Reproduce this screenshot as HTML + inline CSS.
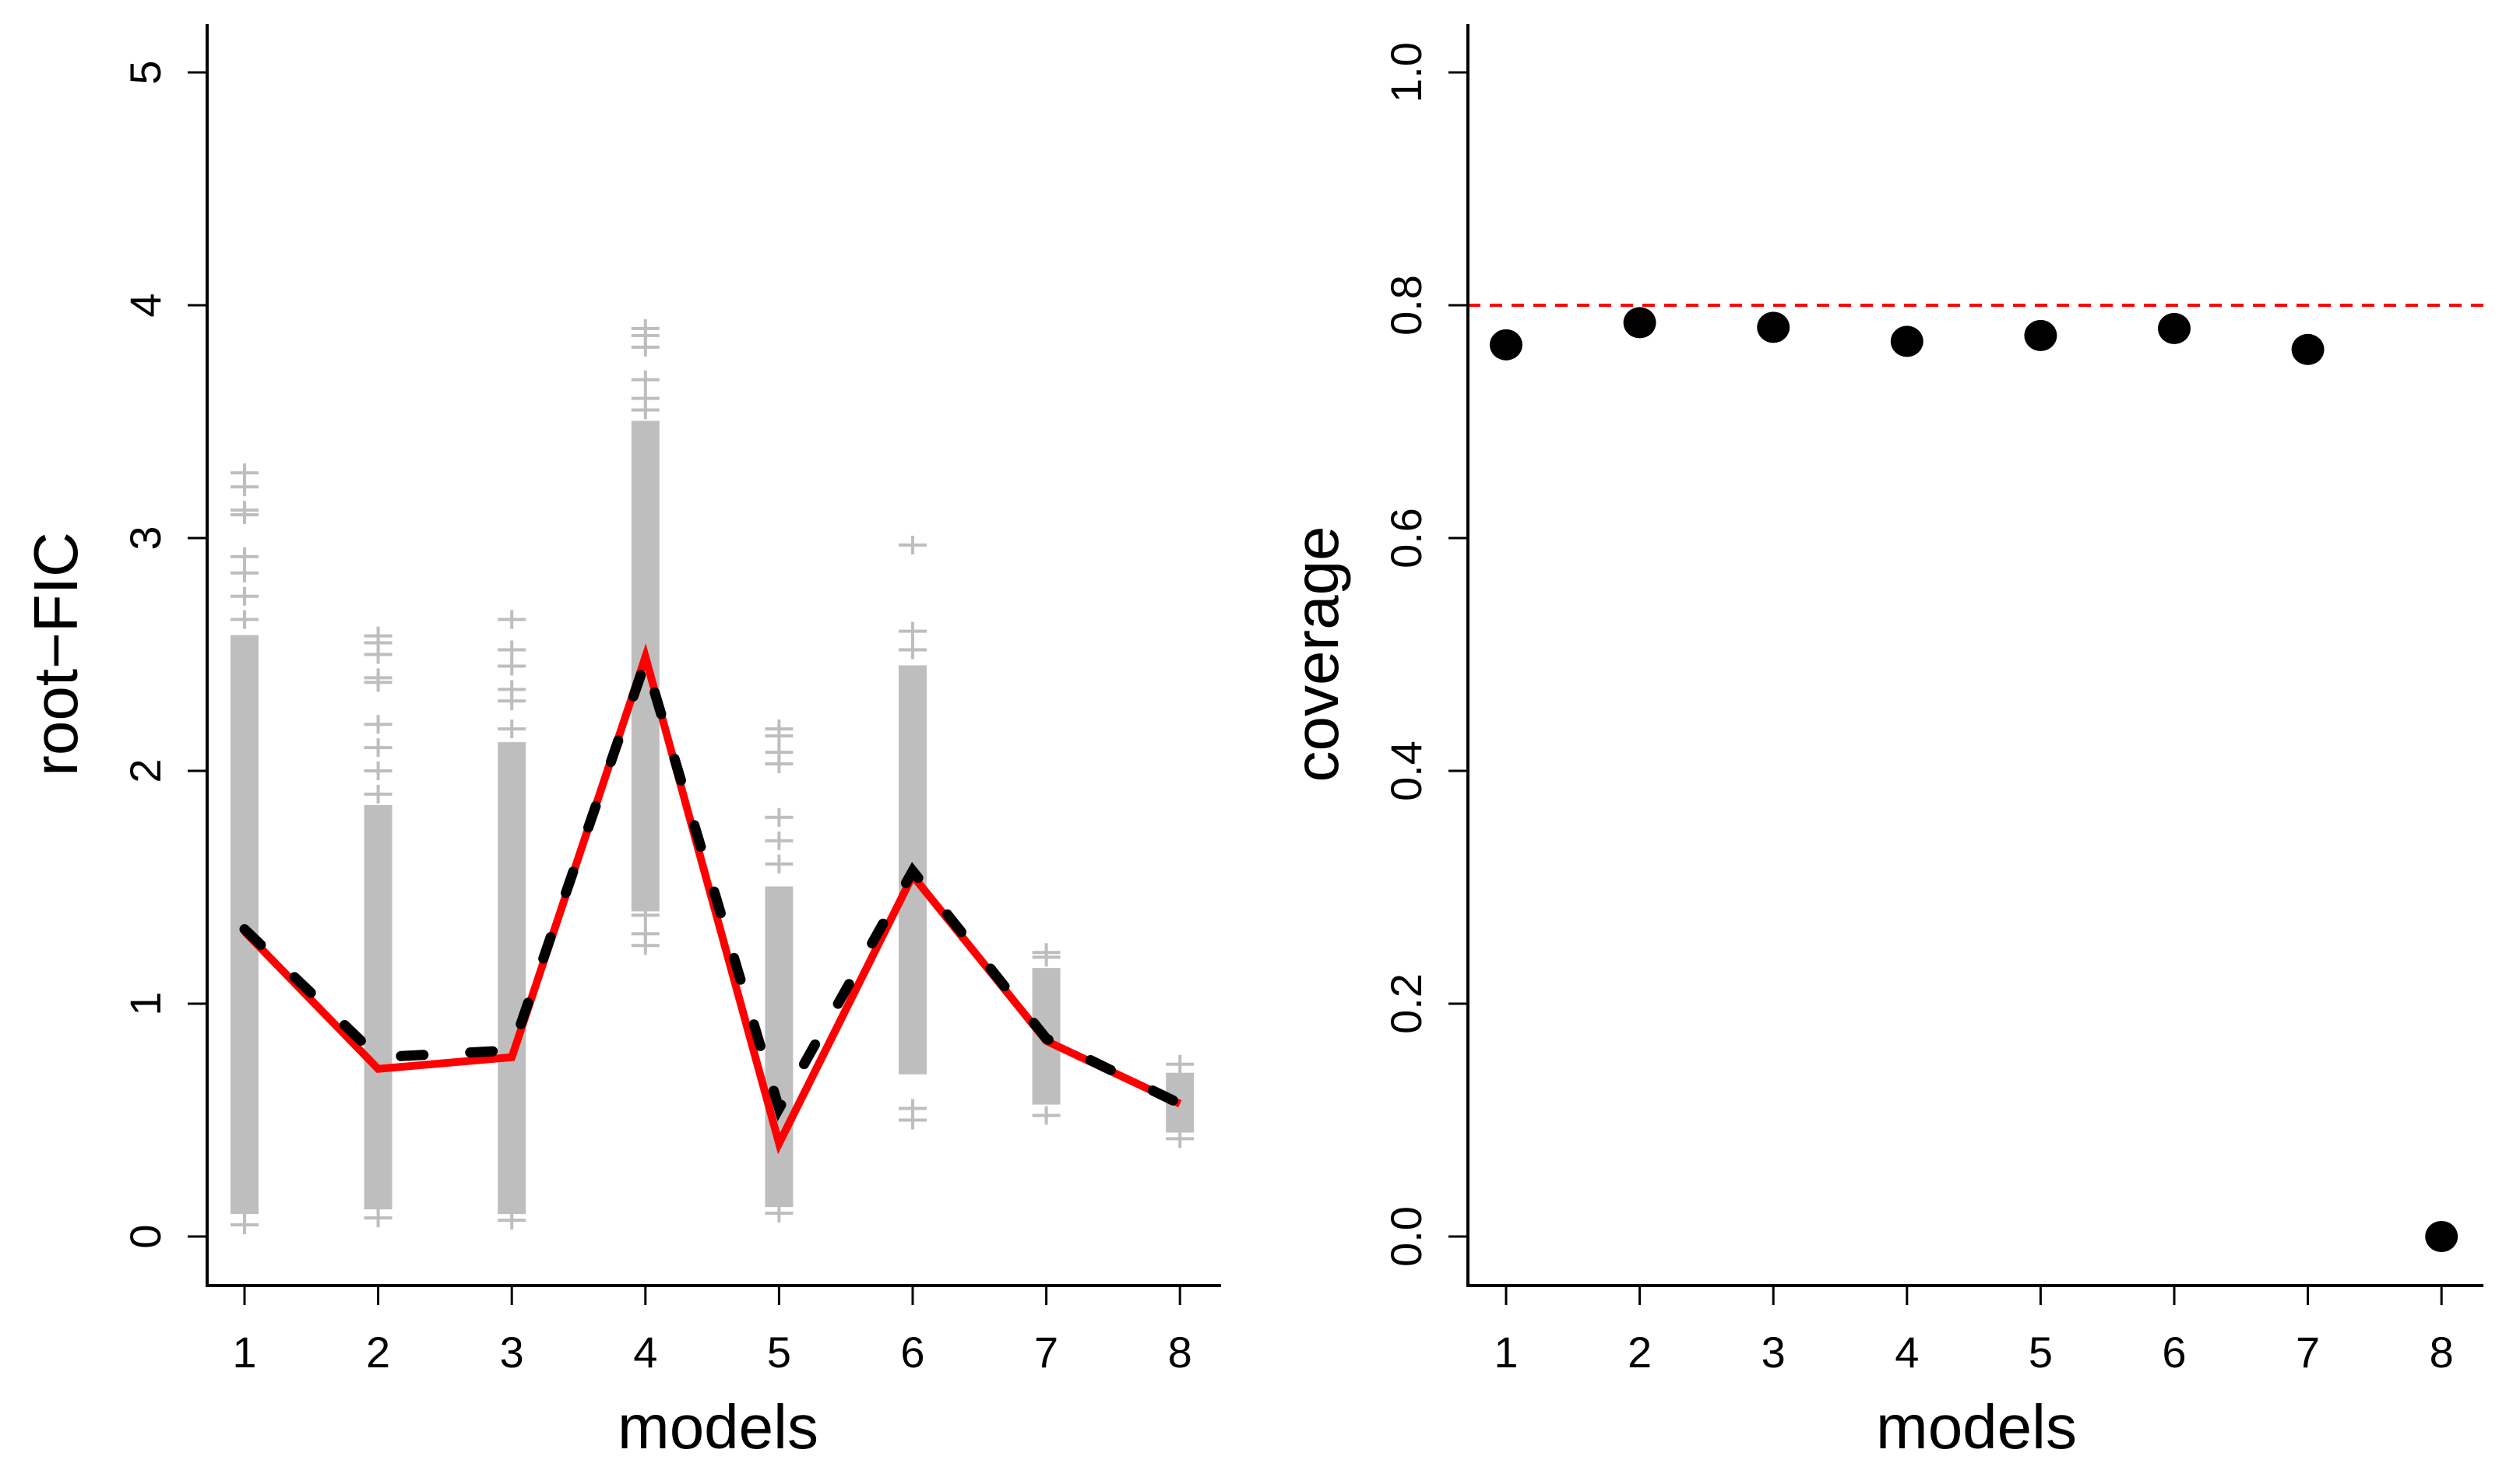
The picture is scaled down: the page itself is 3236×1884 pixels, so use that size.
<!DOCTYPE html>
<html><head><meta charset="utf-8"><style>
html,body{margin:0;padding:0;background:#fff}
svg{display:block}
text{font-family:"Liberation Sans",Arial,sans-serif;fill:#000}
</style></head><body>
<svg id="chart" width="3236" height="1884" viewBox="0 0 3236 1884" xmlns="http://www.w3.org/2000/svg">
<g id="left"></g>
<g id="right"></g>
</svg>
<script>
const models = [1,2,3,4,5,6,7,8];
const redValues = [1.31,0.72,0.77,2.49,0.40,1.55,0.84,0.57];
const blackValues = [1.32,0.77,0.80,2.47,0.55,1.57,0.85,0.57];
const denseLow = [0.10,0.12,0.10,1.40,0.13,0.70,0.57,0.45];
const denseHigh = [2.58,1.85,2.12,3.50,1.50,2.45,1.15,0.70];
const outliers = [
  [0.05,0.12,0.15,0.28,2.65,2.75,2.85,2.92,3.10,3.12,3.22,3.28],
  [0.08,1.90,2.00,2.10,2.20,2.38,2.40,2.50,2.55,2.58],
  [0.07,2.18,2.30,2.35,2.45,2.52,2.65],
  [1.25,1.30,1.38,3.55,3.60,3.68,3.82,3.87,3.90],
  [0.10,1.60,1.70,1.80,2.03,2.08,2.15,2.18],
  [0.50,0.55,2.52,2.60,2.97],
  [0.52,1.20,1.22],
  [0.42,0.74]
];
const coverage = [0.766,0.785,0.781,0.769,0.774,0.780,0.762,0.0];
const targetCoverage = 0.8;
const leftTicks = [0,1,2,3,4,5];
const rightTicks = ["0.0","0.2","0.4","0.6","0.8","1.0"];

const NS="http://www.w3.org/2000/svg";
function mk(parent,tag,attrs,txt){const e=document.createElementNS(NS,tag);for(const k in attrs)e.setAttribute(k,attrs[k]);if(txt!==undefined)e.textContent=txt;parent.appendChild(e);return e;}

const Y0=1588, Y5=93;
function yL(v){return Y0-(Y0-Y5)*v/5;}
function yR(v){return Y0-(Y0-Y5)*v;}
function xL(m){return 314+(m-1)*171.6;}
function xR(m){return 1934+(m-1)*171.6;}

function axes(g,axX,x1,xEnd,xfn,ticks,yfn,title){
  const ax=mk(g,'path',{d:`M${axX},31 V1651 H${xEnd}`,stroke:'#000','stroke-width':4,fill:'none'});
  
  
  models.forEach(m=>{
    const x=xfn(m);
    const t=mk(g,'line',{x1:x,x2:x,y1:1651,y2:1676,stroke:'#000','stroke-width':3});
    
    
    const l=mk(g,'text',{x:x,y:1756,'font-size':56,'text-anchor':'middle'},String(m));
    
    
  });
  ticks.forEach(tk=>{
    const y=yfn(parseFloat(tk));
    const t=mk(g,'line',{x1:axX,x2:axX-25,y1:y,y2:y,stroke:'#000','stroke-width':3});
    
    
    const l=mk(g,'text',{x:0,y:0,'font-size':56,'text-anchor':'middle',transform:`translate(${axX-80},${y}) rotate(-90) translate(0,20)`},String(tk));
    
    
  });
  const xt=mk(g,'text',{x:(x1),y:1860,'font-size':80,'text-anchor':'middle'},'models');
  
  
  const yt=mk(g,'text',{x:0,y:0,'font-size':80,'text-anchor':'middle',transform:`translate(${axX-195},840) rotate(-90) translate(0,28)`},title);
  
  
}

const L=document.getElementById('left');
models.forEach((m,i)=>{
  const x=xL(m);
  const col=mk(L,'g',{});
  
  
  const ylo=yL(denseLow[i]), yhi=yL(denseHigh[i]);
  mk(col,'rect',{x:x-18,y:yhi-1,width:36,height:ylo-yhi+2,fill:'#bebebe'});
  outliers[i].forEach(v=>{
    const y=yL(v);
    mk(col,'path',{d:`M${x-18},${y} H${x+18} M${x},${y-12} V${y+12}`,stroke:'#bebebe','stroke-width':4,fill:'none'});
  });
});
const redPts=models.map((m,i)=>xL(m)+','+yL(redValues[i])).join(' ');
const blkPts=models.map((m,i)=>xL(m)+','+yL(blackValues[i])).join(' ');
const red=mk(L,'polyline',{points:redPts,fill:'none',stroke:'#ff0000','stroke-width':10,'stroke-linejoin':'miter'});


const blk=mk(L,'polyline',{points:blkPts,fill:'none',stroke:'#000','stroke-width':13,'stroke-dasharray':'29 60','stroke-linecap':'round'});


axes(L,266,922,1568,xL,leftTicks,v=>yL(v),'root−FIC');

const R=document.getElementById('right');
const ref=mk(R,'line',{x1:1885,x2:3189,y1:yR(targetCoverage),y2:yR(targetCoverage),stroke:'#ff0000','stroke-width':4,'stroke-dasharray':'16 12'});


models.forEach((m,i)=>{
  const c=mk(R,'ellipse',{cx:xR(m),cy:yR(coverage[i]),rx:21,ry:20,fill:'#000'});
  
  
});
axes(R,1885,2538,3189,xR,rightTicks,v=>yR(v),'coverage');
</script>
</body></html>
